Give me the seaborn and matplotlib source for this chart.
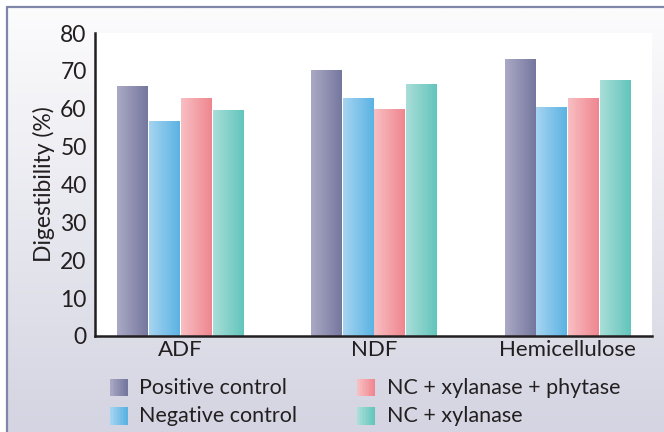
import numpy as np
import pandas as pd
import matplotlib
matplotlib.use('Agg')
import matplotlib.pyplot as plt
import seaborn as sns
from matplotlib.colors import LinearSegmentedColormap
from matplotlib.patches import Rectangle
from matplotlib.lines import Line2D
from matplotlib.legend_handler import HandlerBase

# ── DATA ────────────────────────────────────────────────────
categories = ['ADF', 'NDF', 'Hemicellulose']
treatments = ['Positive control', 'Negative control',
              'NC + xylanase + phytase', 'NC + xylanase']
positive_control = [65.8, 70.0, 72.9]
negative_control = [56.6, 62.6, 60.3]
nc_xyl_phy = [62.6, 59.7, 62.6]
nc_xyl = [59.5, 66.3, 67.4]
y_ticks = [0, 10, 20, 30, 40, 50, 60, 70, 80]

# left -> right gradient colours of each series
grad_colors = {
    'Positive control': ('#aaa9c5', '#75779e'),
    'Negative control': ('#a6d4f1', '#5bb3e3'),
    'NC + xylanase + phytase': ('#f8bfc3', '#ef868f'),
    'NC + xylanase': ('#a9ded9', '#62c5bb'),
}

df = pd.DataFrame({
    'category': categories * 4,
    'treatment': np.repeat(treatments, 3),
    'value': positive_control + negative_control + nc_xyl_phy + nc_xyl,
})

# ── STYLE ───────────────────────────────────────────────────
sns.set_style('white')
plt.rcParams['font.family'] = ['Lato', 'DejaVu Sans']
text_color = '#231f20'

fig = plt.figure(figsize=(6.64, 4.32), dpi=100)

# background panel with vertical gradient + frame lines
bg = fig.add_axes([8 / 664, 0, 1 - 8 / 664, 1 - 8 / 432], zorder=-10)
bg_cmap = LinearSegmentedColormap.from_list('bg', ['#d4d4e2', '#fcfcfd'])
bg.imshow(np.linspace(0, 1, 256).reshape(-1, 1), cmap=bg_cmap,
          aspect='auto', origin='lower', extent=[0, 1, 0, 1])
bg.axis('off')
fig.add_artist(Line2D([7 / 664, 7 / 664], [0, 1 - 7 / 432], color='#7f86a8',
                      lw=1.6, transform=fig.transFigure))
fig.add_artist(Line2D([7 / 664, 1], [1 - 7 / 432, 1 - 7 / 432], color='#7f86a8',
                      lw=1.6, transform=fig.transFigure))

ax = fig.add_axes([95 / 664, 1 - 336 / 432, (652 - 95) / 664, (336 - 33) / 432])
ax.set_facecolor('white')

mid = {k: sns.blend_palette(v, 3)[1] for k, v in grad_colors.items()}
sns.barplot(data=df, x='category', y='value', hue='treatment',
            hue_order=treatments, order=categories, palette=mid,
            width=0.655, linewidth=0, legend=False, ax=ax)

# replace the flat bars with horizontal gradients
for patch in ax.patches:
    fc = patch.get_facecolor()[:3]
    name = min(mid, key=lambda k: np.sum((np.array(mid[k]) - np.array(fc)) ** 2))
    cmap = LinearSegmentedColormap.from_list(name, grad_colors[name])
    x, y = patch.get_x(), patch.get_y()
    w, h = patch.get_width(), patch.get_height()
    ax.imshow(np.linspace(0, 1, 64).reshape(1, -1), cmap=cmap, aspect='auto',
              extent=[x + 0.003, x + w - 0.003, y, y + h], zorder=2)
    patch.set_visible(False)

ax.set_xlim(-0.44, 2.436)
ax.set_ylim(0, 80)
ax.set_yticks(y_ticks)
ax.set_xlabel('')
ax.set_ylabel('Digestibility (%)', fontsize=16.5, color=text_color, labelpad=4)
ax.tick_params(axis='y', length=0, labelsize=16.5, colors=text_color, pad=6)
ax.tick_params(axis='x', length=0, labelsize=16, colors=text_color, pad=3)
for s in ['top', 'right']:
    ax.spines[s].set_visible(False)
for s in ['left', 'bottom']:
    ax.spines[s].set_color('#231f20')
    ax.spines[s].set_linewidth(1.8)
    ax.spines[s].set_zorder(5)


# ── LEGEND with gradient swatches ───────────────────────────
class HandlerGradient(HandlerBase):
    def create_artists(self, legend, orig_handle, xdescent, ydescent,
                       width, height, fontsize, trans):
        c0, c1 = orig_handle.colors
        n = 12
        cols = sns.blend_palette([c0, c1], n)
        side = min(width, height * 1.15)
        artists = []
        for i, c in enumerate(cols):
            r = Rectangle((-xdescent + side * i / n, -ydescent - 0.1 * height),
                          side / n + 0.3, side, facecolor=c, edgecolor='none',
                          transform=trans)
            artists.append(r)
        return artists


class GradHandle:
    def __init__(self, colors):
        self.colors = colors


handles = [GradHandle(grad_colors[t]) for t in treatments]
fig.legend(handles, treatments, handler_map={GradHandle: HandlerGradient()},
           loc='upper left', bbox_to_anchor=(101 / 664, 1 - 369 / 432),
           ncol=2, frameon=False, fontsize=15.5, labelcolor=text_color,
           handlelength=0.82, handleheight=0.85, handletextpad=0.55,
           columnspacing=2.8, labelspacing=0.38, borderaxespad=0)

fig.savefig('out.png', dpi=100)
